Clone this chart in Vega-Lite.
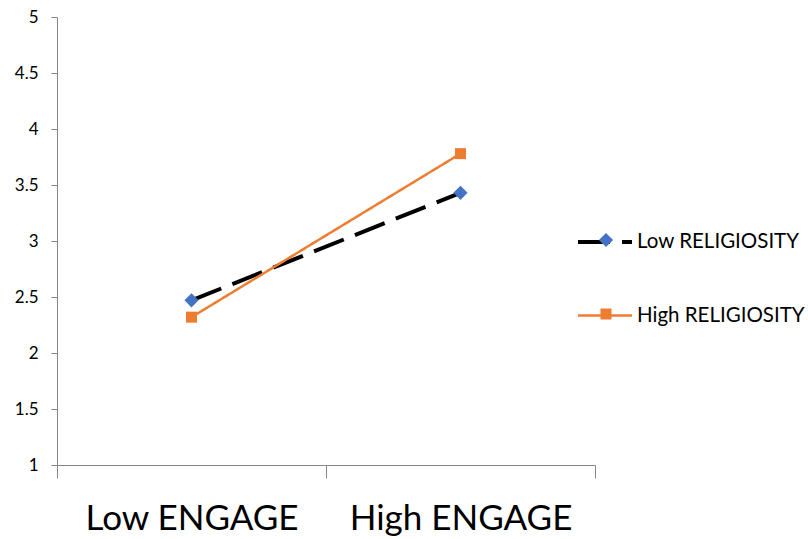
{
  "$schema": "https://vega.github.io/schema/vega-lite/v6.json",
  "width": 538,
  "height": 448,
  "autosize": {"type": "none"},
  "padding": {"left": 57, "top": 17, "right": 213, "bottom": 74},
  "background": "white",
  "config": {"font": "Lato", "view": {"stroke": null}, "axis": {"grid": false}},
  "data": {"values": [
    {"engage": "Low ENGAGE", "series": "Low RELIGIOSITY", "value": 2.47},
    {"engage": "High ENGAGE", "series": "Low RELIGIOSITY", "value": 3.43},
    {"engage": "Low ENGAGE", "series": "High RELIGIOSITY", "value": 2.32},
    {"engage": "High ENGAGE", "series": "High RELIGIOSITY", "value": 3.78}
  ]},
  "encoding": {
    "x": {
      "field": "engage", "type": "nominal", "sort": ["Low ENGAGE", "High ENGAGE"],
      "scale": {"type": "band", "paddingInner": 0, "paddingOuter": 0},
      "axis": {"title": null, "tickBand": "extent", "labelAngle": 0, "labelFontSize": 35, "labelColor": "#000",
               "labelLimit": 0, "labelPadding": 23, "tickSize": 13, "domainColor": "#868686", "tickColor": "#868686"}
    },
    "y": {
      "field": "value", "type": "quantitative",
      "scale": {"domain": [1, 5], "nice": false, "zero": false},
      "axis": {"title": null, "values": [1, 1.5, 2, 2.5, 3, 3.5, 4, 4.5, 5], "format": "~g", "labelFontSize": 17,
               "labelColor": "#000", "labelPadding": 13, "tickSize": 6, "domainColor": "#868686", "tickColor": "#868686"}
    }
  },
  "layer": [
    {
      "mark": {"type": "line"},
      "encoding": {
        "stroke": {"field": "series", "type": "nominal",
          "scale": {"domain": ["Low RELIGIOSITY", "High RELIGIOSITY"], "range": ["#000000", "#ED7D31"]},
          "legend": {"orient": "none", "legendX": 519, "legendY": 196, "title": null, "symbolType": "stroke",
                     "symbolSize": 2916, "labelFontSize": 20.5, "labelOffset": 3, "rowPadding": 34, "padding": 0,
                     "labelLimit": 0, "labelColor": "#000"}},
        "strokeDash": {"field": "series", "type": "nominal",
          "scale": {"domain": ["Low RELIGIOSITY", "High RELIGIOSITY"], "range": [[32, 12], [1, 0]]}},
        "strokeWidth": {"field": "series", "type": "nominal",
          "scale": {"domain": ["Low RELIGIOSITY", "High RELIGIOSITY"], "range": [4, 2.5]}}
      }
    },
    {
      "mark": {"type": "point", "filled": true, "opacity": 1},
      "encoding": {
        "fill": {"field": "series", "type": "nominal",
          "scale": {"domain": ["Low RELIGIOSITY", "High RELIGIOSITY"], "range": ["#4472C4", "#ED7D31"]},
          "legend": {"orient": "none", "legendX": 539, "legendY": 213, "title": null, "labelExpr": "''",
                     "labelFontSize": 20, "labelLimit": 0, "rowPadding": 53, "padding": 0}},
        "shape": {"field": "series", "type": "nominal",
          "scale": {"domain": ["Low RELIGIOSITY", "High RELIGIOSITY"], "range": ["diamond", "square"]}},
        "size": {"field": "series", "type": "nominal",
          "scale": {"domain": ["Low RELIGIOSITY", "High RELIGIOSITY"], "range": [200, 121]}}
      }
    }
  ],
  "resolve": {"legend": {"stroke": "independent", "strokeDash": "independent", "strokeWidth": "independent",
                         "fill": "independent", "shape": "independent", "size": "independent"}}
}
